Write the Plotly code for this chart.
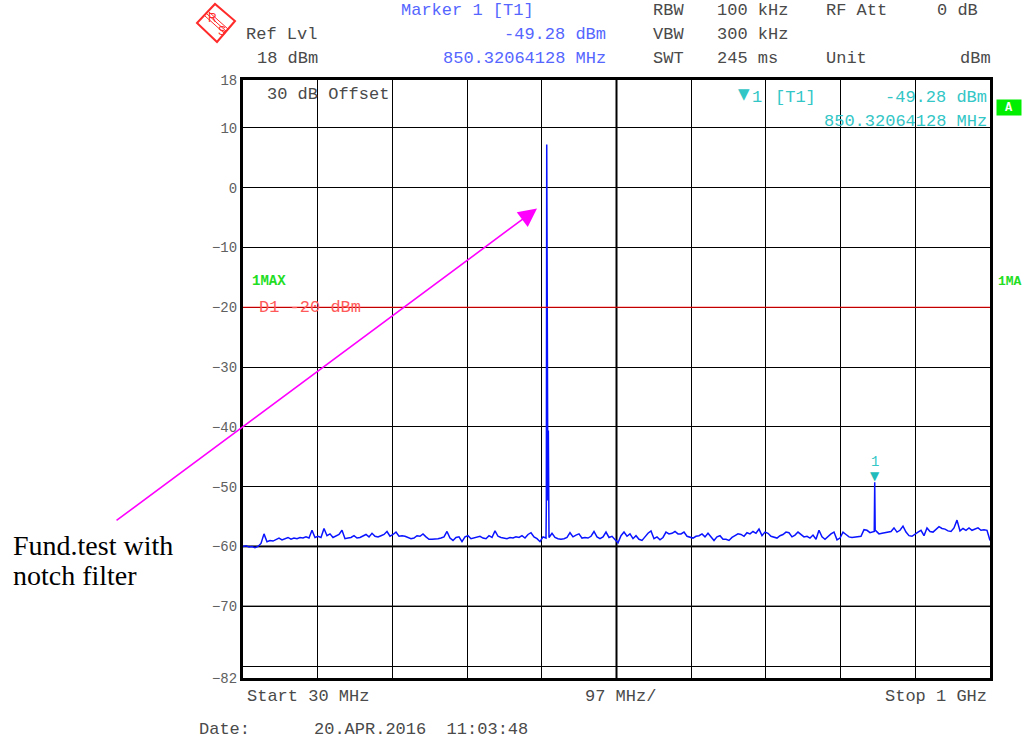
import numpy as np
import plotly.graph_objects as go

# ---------------- data ----------------
start_mhz = 30
stop_mhz = 1000
span_div_mhz = 97
ref_level_dbm = 18
bottom_level_dbm = -82
display_line_dbm = -20

y_tick_vals = [18, 10, 0, -10, -20, -30, -40, -50, -60, -70, -82]
y_grid_extra = [-80]

# noise floor of trace 1 (max hold), equally spaced sweep points from start to stop
noise_dbm = [
    -60.0, -59.9, -60.1, -60.0, -60.2, -60.0, -59.5, -57.9, -59.2, -59.0,
    -59.1, -58.8, -58.6, -58.9, -58.7, -58.5, -58.8, -58.6, -58.7, -58.5,
    -58.6, -58.4, -58.6, -57.3, -58.5, -58.3, -58.5, -57.0, -58.2, -57.9,
    -58.5, -58.3, -58.0, -57.3, -58.7, -58.6, -58.5, -58.2, -58.6, -58.5,
    -58.2, -58.0, -58.4, -57.8, -58.3, -58.4, -58.2, -58.0, -57.5, -58.3,
    -58.0, -57.6, -58.3, -58.2, -58.3, -58.5, -58.7, -58.6, -58.2, -58.3,
    -57.9, -58.4, -58.8, -58.8, -58.8, -58.7, -58.6, -58.4, -57.5, -58.6,
    -59.0, -58.5, -58.4, -59.2, -58.4, -58.2, -58.7, -58.6, -58.4, -58.3,
    -58.6, -58.7, -58.2, -58.5, -57.4, -58.3, -58.5, -58.6, -58.7, -58.5,
    -58.6, -58.4, -58.5, -58.2, -58.6, -58.0, -57.7, -58.4, -58.7, -59.2,
    -58.4, -58.6, -58.5, -57.8, -58.5, -58.7, -58.8, -58.7, -58.5, -57.7,
    -58.4, -58.1, -57.9, -58.6, -58.5, -58.6, -58.3, -57.5, -58.4, -58.7,
    -58.4, -57.6, -58.5, -58.3, -58.9, -59.4, -58.2, -57.6, -58.3, -57.9,
    -58.7, -58.2, -58.8, -59.0, -58.4, -57.8, -57.4, -58.7, -58.4, -58.9,
    -58.5, -57.6, -57.9, -57.8, -57.5, -57.9, -57.9, -57.6, -58.3, -58.5,
    -58.6, -58.3, -58.2, -57.9, -58.4, -57.8, -58.5, -59.0, -58.4, -58.2,
    -58.8, -58.8, -59.0, -58.5, -58.2, -57.9, -58.0, -58.3, -57.7, -57.9,
    -57.5, -57.8, -57.1, -58.2, -57.6, -57.8, -58.3, -58.4, -58.6, -58.2,
    -58.0, -57.6, -57.7, -58.4, -58.1, -57.6, -58.0, -58.4, -58.3, -58.6,
    -58.1, -58.8, -57.3, -58.4, -58.8, -58.3, -57.9, -57.6, -58.9, -58.6,
    -57.6, -58.0, -58.4, -58.5, -58.4, -58.4, -58.3, -57.2, -57.3, -57.7,
    -57.6, -57.4, -57.9, -57.8, -57.7, -57.6, -57.5, -56.9, -57.6, -57.3,
    -56.6, -57.6, -58.2, -58.3, -57.9, -57.6, -57.3, -58.2, -56.9, -57.5,
    -57.6, -57.2, -56.7, -57.0, -57.1, -57.4, -57.5, -56.9, -55.6, -57.4,
    -57.0, -57.3, -56.9, -57.3, -57.1, -56.9, -57.3, -57.2, -57.3, -59.0,
]

# fundamental (notched) carrier lines
carrier_mhz = [423.9, 424.4, 425.0, 425.9, 426.5, 427.0]
carrier_dbm = [-53.0, 7.2, -51.8, -52.3, -40.6, -50.0]

# second harmonic at marker 1
marker_mhz = [849.7, 850.32, 850.9]
marker_dbm = [-57.5, -49.28, -57.3]
marker1_mhz = 850.32
marker1_dbm = -49.28

# ---------------- build trace ----------------
noise_mhz = np.linspace(start_mhz, stop_mhz, len(noise_dbm))
all_f = np.concatenate([noise_mhz, carrier_mhz, marker_mhz])
all_l = np.concatenate([noise_dbm, carrier_dbm, marker_dbm])
order = np.argsort(all_f, kind="stable")
all_f = all_f[order]
all_l = all_l[order]

W, H = 1022, 741
L, R, T, B = 243, 990, 80, 678


def px(x):
    return (x - L) / (R - L)


def py(y):
    return (B - y) / (B - T)


MONO = "Liberation Mono"
GRAY = "#4a4a4a"
BLUE = "#5566ff"
CYAN = "#33c6c6"

fig = go.Figure()
fig.add_trace(go.Scatter(x=all_f, y=all_l, mode="lines",
                         line=dict(color="#0a14ff", width=1.5),
                         hoverinfo="skip", showlegend=False))

annotations = []


def txt(text, x, y, color=GRAY, size=17, anchor="left", family=MONO, **kw):
    annotations.append(dict(text=text, x=px(x), y=py(y), xref="paper", yref="paper",
                            xanchor=anchor, yanchor="middle", showarrow=False,
                            font=dict(family=family, size=size, color=color), **kw))


# header block
txt("Marker 1 [T1]", 399, 11, BLUE)
txt("-49.28 dBm", 608, 34, BLUE, anchor="right")
txt("850.32064128 MHz", 608, 58, BLUE, anchor="right")
txt("Ref Lvl", 244, 34)
txt("18 dBm", 255, 58)
txt("RBW", 651, 11)
txt("100 kHz", 715, 11)
txt("RF Att", 824, 11)
txt("0 dB", 980, 11, anchor="right")
txt("VBW", 651, 34)
txt("300 kHz", 715, 34)
txt("SWT", 651, 58)
txt("245 ms", 715, 58)
txt("Unit", 824, 58)
txt("dBm", 993, 58, anchor="right")

# inside plot
txt("30 dB Offset", 265, 95)
txt("▼", 736, 94, CYAN, size=15, family="DejaVu Sans")
txt("1", 750, 98, CYAN)
txt("[T1]", 773, 98, CYAN)
txt("-49.28 dBm", 989, 98, CYAN, anchor="right")
txt("850.32064128 MHz", 989, 122, CYAN, anchor="right")
txt("<b>1MAX</b>", 250, 281, "#22dd22", size=14)
txt("<b>1MA</b>", 996, 281, "#22dd22", size=13)
txt("D1 -20 dBm", 257, 307, "#ff5a5a")
annotations.append(dict(text="<b>A</b>", x=px(1009), y=py(108), xref="paper", yref="paper",
                        xanchor="center", yanchor="middle", showarrow=False,
                        bgcolor="#00ee00", width=22, height=13,
                        font=dict(family=MONO, size=12, color="white")))

# footer
txt("Start 30 MHz", 245, 696)
txt("97 MHz/", 620, 696, anchor="center")
txt("Stop 1 GHz", 989, 696, anchor="right")
txt("Date:", 197, 729)
txt("20.APR.2016  11:03:48", 312, 729)

# left-side comment
txt("Fund.test with", 11, 545, "black", size=28, family="Liberation Serif")
txt("notch filter", 11, 575, "black", size=28, family="Liberation Serif")

# marker 1 symbol
annotations.append(dict(text="▼", x=marker1_mhz, y=marker1_dbm, xref="x", yref="y",
                        xanchor="center", yanchor="bottom", showarrow=False, yshift=-3,
                        font=dict(family="DejaVu Sans", size=12, color="#22bbbb")))
annotations.append(dict(text="1", x=marker1_mhz, y=marker1_dbm, xref="x", yref="y",
                        xanchor="center", yanchor="bottom", showarrow=False, yshift=10,
                        font=dict(family=MONO, size=14, color=CYAN)))

# magenta arrow pointing to the fundamental
annotations.append(dict(text="", x=411.8, y=-3.5, xref="x", yref="y",
                        ax=-422, ay=313, showarrow=True, arrowhead=2,
                        arrowsize=2.3, arrowwidth=1.6, arrowcolor="#ff00ff"))

shapes = []
# display line D1
shapes.append(dict(type="line", xref="paper", yref="y", x0=0, x1=1,
                   y0=display_line_dbm, y1=display_line_dbm,
                   line=dict(color="#ff0000", width=1.2), layer="above"))
# emphasised grid lines
shapes.append(dict(type="line", xref="paper", yref="y", x0=0, x1=1, y0=-60, y1=-60,
                   line=dict(color="#444444", width=2.2), layer="between"))
shapes.append(dict(type="line", xref="paper", yref="y", x0=0, x1=1, y0=-70, y1=-70,
                   line=dict(color="#333333", width=1.6), layer="between"))
shapes.append(dict(type="line", xref="x", yref="paper", x0=start_mhz + 5 * span_div_mhz,
                   x1=start_mhz + 5 * span_div_mhz, y0=0, y1=1,
                   line=dict(color="black", width=2), layer="between"))


# R&S logo (decoration)
def P(x, y):
    return f"{px(x):.5f},{py(y):.5f}"


logo_red = "#ff2a2a"
shapes.append(dict(type="path", xref="paper", yref="paper",
                   path=f"M{P(197,23)} L{P(215,4)} L{P(235,21)} L{P(217,42)} Z",
                   line=dict(color=logo_red, width=2)))
for d in (-2.0, 0, 2.0):
    shapes.append(dict(type="line", xref="paper", yref="paper",
                       x0=px(207 + d), y0=py(14 - d), x1=px(226 + d), y1=py(31 - d),
                       line=dict(color=logo_red, width=1)))
txt("R", 206, 18, logo_red, size=12, family="Liberation Sans")
txt("S", 216, 31, logo_red, size=12, family="Liberation Sans")

fig.update_layout(
    width=W, height=H, autosize=False,
    margin=dict(l=L, r=W - R, t=T, b=H - B, pad=0),
    paper_bgcolor="white", plot_bgcolor="white",
    showlegend=False,
    annotations=annotations, shapes=shapes,
    xaxis=dict(range=[start_mhz, stop_mhz],
               tickvals=[start_mhz + span_div_mhz * i for i in range(11)],
               showticklabels=False, ticks="", showgrid=True, gridcolor="black",
               gridwidth=1, zeroline=False, showline=True, linecolor="black",
               linewidth=3, mirror=True, fixedrange=True),
    yaxis=dict(range=[bottom_level_dbm, ref_level_dbm], tickvals=y_tick_vals,
               ticktext=[str(v).replace("-", "\u2212") for v in y_tick_vals],
               ticks="", showgrid=True, gridcolor="black", gridwidth=1,
               zeroline=False, showline=True, linecolor="black", linewidth=3,
               mirror=True, fixedrange=True,
               tickfont=dict(family=MONO, size=14, color="#606060"),
               minor=dict(tickvals=y_grid_extra, showgrid=True, gridcolor="black",
                          gridwidth=1, ticks="")),
)

fig.write_html("out.html", config=dict(displayModeBar=False),
               post_script="document.body.style.margin='0px';")
